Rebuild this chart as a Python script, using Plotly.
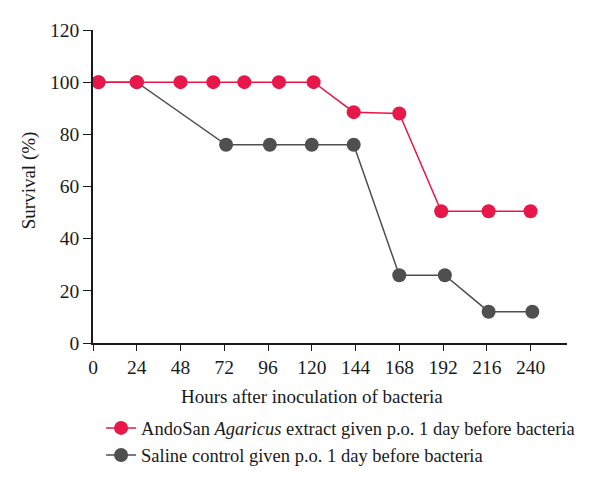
import plotly.graph_objects as go

hours_andosan = [3, 24, 48, 66, 83, 102, 121, 143, 168, 191, 217, 240]
surv_andosan = [100, 100, 100, 100, 100, 100, 100, 88.5, 88, 50.5, 50.5, 50.5]

hours_saline = [3, 24, 73, 97, 120, 143, 168, 193, 217, 241]
surv_saline = [100, 100, 76, 76, 76, 76, 26, 26, 12, 12]

x_ticks = [0, 24, 48, 72, 96, 120, 144, 168, 192, 216, 240]
y_ticks = [0, 20, 40, 60, 80, 100, 120]

x_title = "Hours after inoculation of bacteria"
y_title = "Survival (%)"

RED = "#E8174A"
GRAY = "#4F4F4F"
FONT = "Liberation Serif"
INK = "#1a1a1a"

fig = go.Figure()
fig.add_trace(go.Scatter(
    x=hours_saline, y=surv_saline, mode="lines+markers",
    name="Saline control given p.o. 1 day before bacteria",
    line=dict(color=GRAY, width=1.5),
    marker=dict(color=GRAY, size=14),
))
fig.add_trace(go.Scatter(
    x=hours_andosan, y=surv_andosan, mode="lines+markers",
    name="AndoSan <i>Agaricus</i> extract given p.o. 1 day before bacteria",
    line=dict(color=RED, width=1.5),
    marker=dict(color=RED, size=14),
))

fig.update_layout(
    width=600, height=485,
    margin=dict(l=85, r=41, t=22, b=150, autoexpand=False),
    paper_bgcolor="white", plot_bgcolor="white",
    font=dict(family=FONT, size=18, color=INK),
    showlegend=True,
    legend=dict(x=0.017, y=-0.212, xanchor="left", yanchor="top",
                orientation="v", font=dict(size=18.5, family=FONT, color=INK),
                traceorder="reversed",
                tracegroupgap=0, itemwidth=30, bgcolor="rgba(0,0,0,0)"),
    xaxis=dict(range=[0, 260], tickvals=x_ticks, ticks="outside", ticklen=6,
               tickcolor=INK, showline=True, linecolor=INK, linewidth=1.5,
               showgrid=False, zeroline=False,
               tickfont=dict(size=19.5, family=FONT, color=INK)),
    yaxis=dict(range=[0, 120], tickvals=y_ticks, ticks="outside", ticklen=8,
               tickcolor=INK, showline=True, linecolor=INK, linewidth=1.5,
               showgrid=False, zeroline=False,
               tickfont=dict(size=19.5, family=FONT, color=INK)),
)

fig.add_annotation(text=x_title, x=120, xref="x", y=-0.1725, yref="paper",
                   xanchor="center", yanchor="middle", showarrow=False,
                   font=dict(size=19, family=FONT, color=INK))
fig.add_annotation(text=y_title, x=-0.135, xref="paper", y=0.52, yref="paper",
                   xanchor="center", yanchor="middle", showarrow=False, textangle=-90,
                   font=dict(size=19, family=FONT, color=INK))

fig.write_html("out.html")
